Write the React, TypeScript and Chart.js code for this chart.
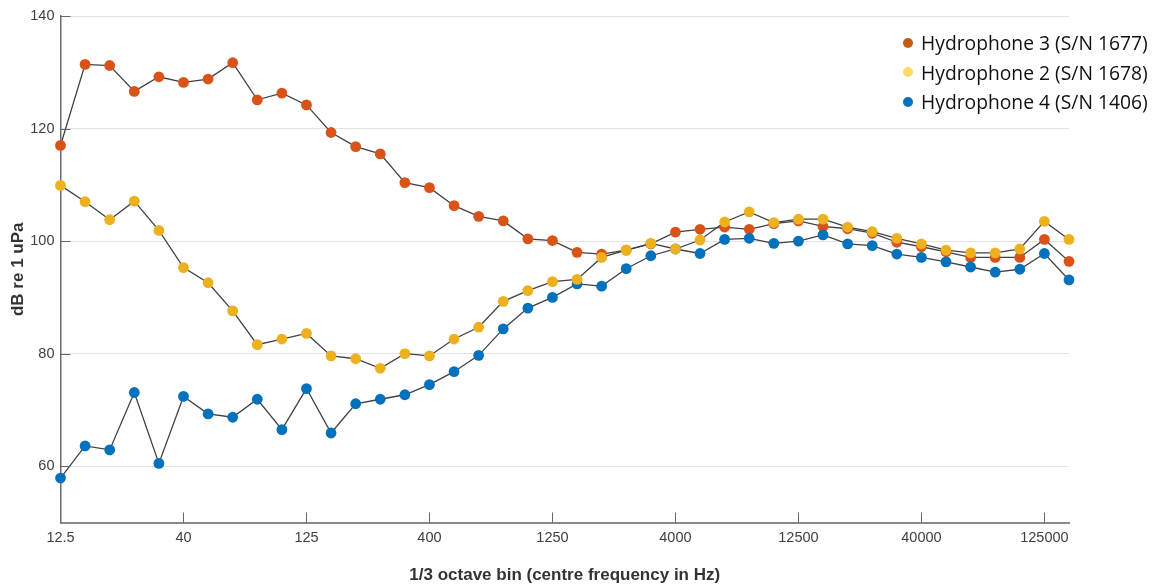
import React, { useEffect, useRef } from 'react';
import { Chart, registerables } from 'chart.js';

Chart.register(...registerables);

const freqLabels = [
  '12.5', '16', '20', '25', '31.5', '40', '50', '63', '80', '100',
  '125', '160', '200', '250', '315', '400', '500', '630', '800', '1000',
  '1250', '1600', '2000', '2500', '3150', '4000', '5000', '6300', '8000', '10000',
  '12500', '16000', '20000', '25000', '31500', '40000', '50000', '63000', '80000', '100000',
  '125000', '160000',
];

const xTickLabels = ['12.5', '40', '125', '400', '1250', '4000', '12500', '40000', '125000'];
const yTickValues = [60, 80, 100, 120, 140];

const hydrophone3 = [
  117.0, 131.4, 131.2, 126.6, 129.2, 128.2, 128.8, 131.7, 125.1, 126.3,
  124.2, 119.3, 116.8, 115.5, 110.4, 109.5, 106.3, 104.4, 103.6, 100.4,
  100.1, 98.0, 97.7, 98.4, 99.5, 101.6, 102.1, 102.5, 102.1, 103.1,
  103.6, 102.6, 102.2, 101.4, 99.8, 99.0, 98.1, 97.1, 97.1, 97.1,
  100.3, 96.4,
];

const hydrophone2 = [
  109.9, 107.0, 103.8, 107.1, 101.9, 95.3, 92.6, 87.6, 81.6, 82.6,
  83.6, 79.6, 79.1, 77.4, 80.0, 79.6, 82.6, 84.7, 89.3, 91.2,
  92.8, 93.2, 97.1, 98.4, 99.6, 98.6, 100.2, 103.4, 105.2, 103.3,
  103.9, 103.9, 102.5, 101.7, 100.5, 99.5, 98.4, 97.9, 97.9, 98.6,
  103.5, 100.3,
];

const hydrophone4 = [
  57.9, 63.6, 62.9, 73.1, 60.5, 72.4, 69.3, 68.7, 71.9, 66.5,
  73.8, 65.9, 71.1, 71.9, 72.7, 74.5, 76.8, 79.7, 84.4, 88.1,
  90.0, 92.4, 92.0, 95.1, 97.4, 98.6, 97.8, 100.3, 100.5, 99.6,
  100.0, 101.1, 99.5, 99.2, 97.7, 97.1, 96.3, 95.4, 94.5, 95.0,
  97.8, 93.1,
];

const seriesNames = ['Hydrophone 3 (S/N 1677)', 'Hydrophone 2 (S/N 1678)', 'Hydrophone 4 (S/N 1406)'];
const pointColors = ['#D95319', '#EDB120', '#0072BD'];
const legendColors = ['#C55A11', '#FFD966', '#0070C0'];

const innerTicks = {
  id: 'innerTicks',
  afterDraw(chart: any) {
    const { ctx, chartArea } = chart;
    const xs = chart.scales.x;
    const ys = chart.scales.y;
    ctx.save();
    ctx.strokeStyle = '#666';
    ctx.lineWidth = 1;
    xs.ticks.forEach((_t: any, i: number) => {
      const px = Math.round(xs.getPixelForTick(i)) + 0.5;
      if (i === 0) return;
      ctx.beginPath();
      ctx.moveTo(px, chartArea.bottom);
      ctx.lineTo(px, chartArea.bottom - 10);
      ctx.stroke();
    });
    ys.ticks.forEach((_t: any, i: number) => {
      const py = Math.round(ys.getPixelForTick(i)) + 0.5;
      ctx.beginPath();
      ctx.moveTo(chartArea.left, py);
      ctx.lineTo(chartArea.left + 10, py);
      ctx.stroke();
    });
    ctx.restore();
  },
};

export default function App() {
  const canvasRef = useRef<HTMLCanvasElement | null>(null);

  useEffect(() => {
    if (!canvasRef.current) return;
    const seriesData = [hydrophone3, hydrophone2, hydrophone4];
    const orders = [2, 0, 1];
    const chart = new Chart(canvasRef.current, {
      type: 'line',
      data: {
        labels: freqLabels,
        datasets: seriesData.map((d, i) => ({
          label: seriesNames[i],
          data: d,
          borderColor: '#404040',
          borderWidth: 1.3,
          pointBackgroundColor: pointColors[i],
          pointBorderColor: pointColors[i],
          pointBorderWidth: 0,
          pointRadius: 5.4,
          tension: 0,
          fill: false,
          clip: false as any,
          order: orders[i],
        })),
      },
      options: {
        responsive: false,
        animation: false,
        layout: { padding: { left: 0, top: 16, right: 86, bottom: 0 } },
        plugins: {
          legend: { display: false },
          tooltip: { enabled: false },
        },
        scales: {
          x: {
            type: 'category',
            offset: false,
            afterFit: (scale: any) => {
              scale.height = 63.5;
            },
            afterBuildTicks: (scale: any) => {
              scale.ticks = scale.ticks.filter((t: any) => xTickLabels.includes(freqLabels[t.value]));
            },
            grid: { display: false, drawTicks: false },
            border: { display: true, color: '#8a8a8a', width: 2 },
            ticks: {
              autoSkip: false,
              maxRotation: 0,
              minRotation: 0,
              padding: 7,
              color: '#404040',
              font: { family: 'Liberation Sans, Arial, sans-serif', size: 14.5 },
            },
            title: {
              display: true,
              text: '1/3 octave bin (centre frequency in Hz)',
              color: '#333',
              font: { family: 'Liberation Sans, Arial, sans-serif', size: 17, weight: 'bold' },
              padding: { top: 2, bottom: 0 },
            },
          },
          y: {
            min: 50,
            max: 140,
            afterFit: (scale: any) => {
              scale.width = 60.5;
            },
            afterBuildTicks: (scale: any) => {
              scale.ticks = yTickValues.map((v) => ({ value: v }));
            },
            grid: { color: '#e3e3e3', lineWidth: 1, drawTicks: false },
            border: { display: true, color: '#6a6a6a', width: 1.5 },
            ticks: {
              padding: 6,
              color: '#404040',
              font: { family: 'Liberation Sans, Arial, sans-serif', size: 14.5 },
            },
            title: {
              display: true,
              text: 'dB re 1 uPa',
              color: '#333',
              font: { family: 'Liberation Sans, Arial, sans-serif', size: 17, weight: 'bold' },
              padding: { top: 8, bottom: 0 },
            },
          },
        },
      },
      plugins: [innerTicks],
    });
    return () => chart.destroy();
  }, []);

  return (
    <div style={{ position: 'absolute', left: 0, top: 0, width: 1155, height: 586, background: '#fff' }}>
      <canvas ref={canvasRef} width={1155} height={586} style={{ display: 'block' }} />
      <div style={{ position: 'absolute', left: 903, top: 28, fontFamily: '"Open Sans", sans-serif', fontSize: 19.3, color: '#111' }}>
        {seriesNames.map((name, i) => (
          <div key={name} style={{ display: 'flex', alignItems: 'center', height: 29.5, whiteSpace: 'nowrap' }}>
            <span style={{ display: 'inline-block', width: 10, height: 10, borderRadius: '50%', background: legendColors[i], marginRight: 8 }} />
            <span>{name}</span>
          </div>
        ))}
      </div>
    </div>
  );
}
